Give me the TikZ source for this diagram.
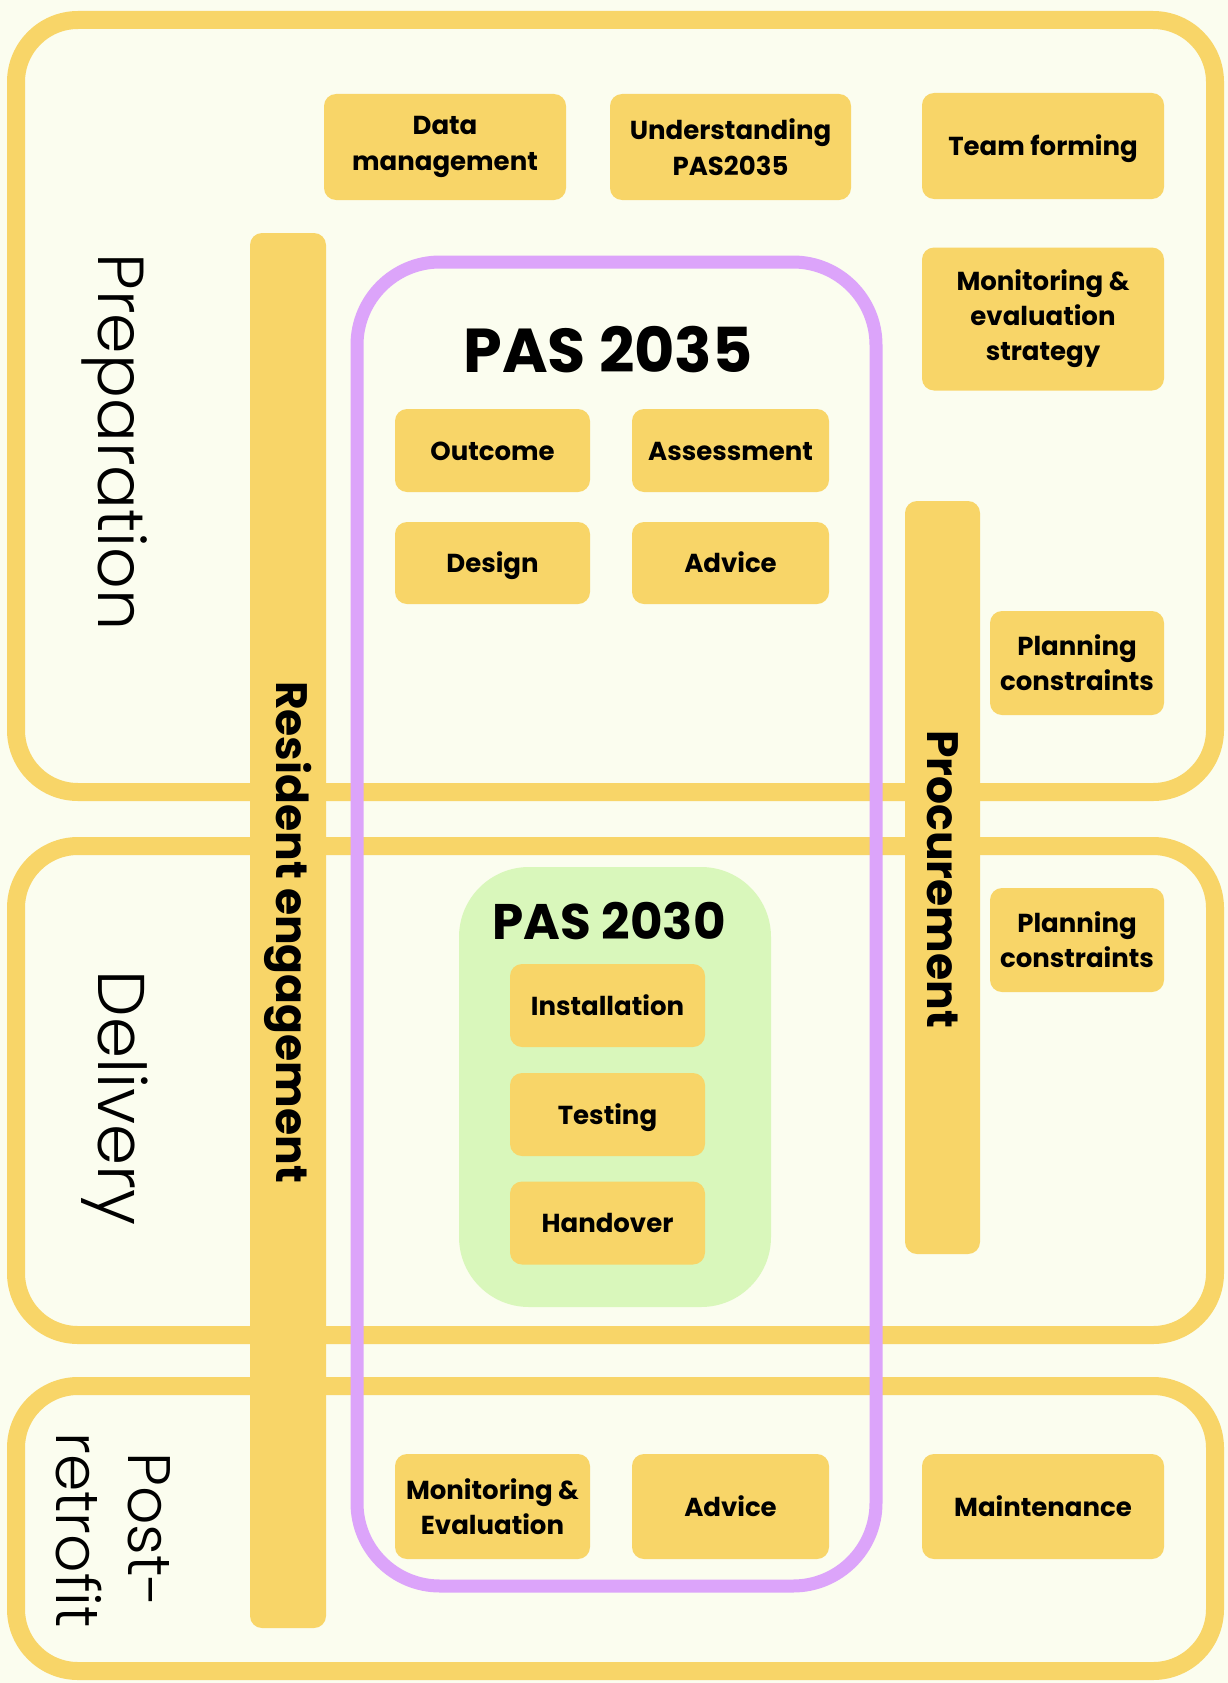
\documentclass[tikz,border=0pt]{standalone}
\usepackage{fontspec}
\setmainfont{Poppins}
\newfontfamily\semibf{Poppins}[UprightFont=* SemiBold]
\newfontfamily\lightf{Poppins}[UprightFont=* Light]
\newfontfamily\boldf{Poppins}[UprightFont=* Bold]
\definecolor{bgc}{HTML}{FBFDEF}
\definecolor{yel}{HTML}{F8D568}
\definecolor{pur}{HTML}{DCA4FA}
\definecolor{grn}{HTML}{D9F7BB}
\begin{document}
\begin{tikzpicture}[x=1pt,y=-1pt,
  phase/.style={draw=yel, line width=18pt, rounded corners=62pt, minimum width=1199pt, inner sep=0pt},
  card/.style={fill=yel, rounded corners=12pt, inner sep=0pt, align=center, text=black,
    font=\boldf\fontsize{26}{36}\selectfont},
  oneline/.style={text height=19pt, text depth=0pt},
  bar/.style={fill=yel, rounded corners=12pt, inner sep=0pt},
  sidelabel/.style={text=black, font=\lightf\fontsize{66}{74}\selectfont, align=center, inner sep=0pt},
  barlabel/.style={text=black, font=\boldf\fontsize{44}{50}\selectfont, inner sep=0pt, rotate=-90},
  title/.style={text=black, font=\boldf\fontsize{62}{68}\selectfont, inner sep=0pt}
]
\useasboundingbox (0,0) rectangle (1228,1683);
\fill[bgc] (0,0) rectangle (1228,1683);

% phase boxes
\node[phase, minimum height=772pt] (prep) at (615.5,406) {};
\node[phase, minimum height=489pt] (deliv) at (615.5,1090.5) {};
\node[phase, minimum height=285pt] (post) at (615.5,1528.5) {};

% vertical bars
\node[bar, minimum width=76pt, minimum height=1395pt] (resbar) at (288,930.5) {};
\node[bar, minimum width=75pt, minimum height=753pt] (procbar) at (942.5,877.5) {};
\node[barlabel] (reslabel) at (288,932) {Resident engagement};
\node[barlabel] (proclabel) at (942.5,879) {Procurement};

% PAS 2035 frame
\node[draw=pur, line width=13pt, rounded corners=83pt, minimum width=519pt, minimum height=1324pt, inner sep=0pt] (pas35) at (616.5,924) {};
% PAS 2030 frame
\node[fill=grn, rounded corners=70pt, minimum width=312pt, minimum height=440pt, inner sep=0pt] (pas30) at (615,1087) {};

\node[title] (t35) at (608,350) {PAS 2035};
\node[title, font=\boldf\fontsize{50}{56}\selectfont] (t30) at (609,921) {PAS 2030};

% side labels
\node[sidelabel, rotate=-90, anchor=base, font=\lightf\fontsize{65}{72}\selectfont] (lprep) at (98,442) {Preparation};
\node[sidelabel, rotate=-90, anchor=base] (ldel) at (98,1098) {Delivery};
\node[sidelabel, rotate=-90, font=\lightf\fontsize{60}{72}\selectfont] (lpost) at (113,1530) {Post-\\retrofit};

% cards
\node[card, minimum width=242pt, minimum height=106pt] (dm) at (445,147) {Data\\management};
\node[card, minimum width=241pt, minimum height=106pt] (up) at (730.5,147) {Understanding\\PAS2035};
\node[card, oneline, minimum width=242pt, minimum height=106pt] (tf) at (1043,146) {Team forming};
\node[card, minimum width=242pt, minimum height=143pt, font=\boldf\fontsize{26}{35}\selectfont] (mes) at (1043,319) {Monitoring \&\\evaluation\\strategy};
\node[card, oneline, minimum width=195pt, minimum height=83pt] (out) at (492.5,450.5) {Outcome};
\node[card, oneline, minimum width=197pt, minimum height=83pt] (ass) at (730.5,450.5) {Assessment};
\node[card, oneline, minimum width=195pt, minimum height=82pt] (des) at (492.5,563) {Design};
\node[card, oneline, minimum width=197pt, minimum height=82pt] (adv) at (730.5,563) {Advice};
\node[card, minimum width=174pt, minimum height=104pt, font=\boldf\fontsize{26}{35}\selectfont] (pc1) at (1077,663) {Planning\\constraints};
\node[card, minimum width=174pt, minimum height=104pt, font=\boldf\fontsize{26}{35}\selectfont] (pc2) at (1077,940) {Planning\\constraints};
\node[card, oneline, minimum width=195pt, minimum height=83pt] (inst) at (607.5,1005.5) {Installation};
\node[card, oneline, minimum width=195pt, minimum height=83pt] (test) at (607.5,1114.5) {Testing};
\node[card, oneline, minimum width=195pt, minimum height=83pt] (hand) at (607.5,1223) {Handover};
\node[card, minimum width=195pt, minimum height=105pt, font=\boldf\fontsize{26}{35}\selectfont] (me) at (492.5,1506.5) {Monitoring \&\\Evaluation};
\node[card, oneline, minimum width=197pt, minimum height=105pt] (adv2) at (730.5,1506.5) {Advice};
\node[card, oneline, minimum width=242pt, minimum height=105pt] (maint) at (1043,1506.5) {Maintenance};
\end{tikzpicture}
\end{document}
